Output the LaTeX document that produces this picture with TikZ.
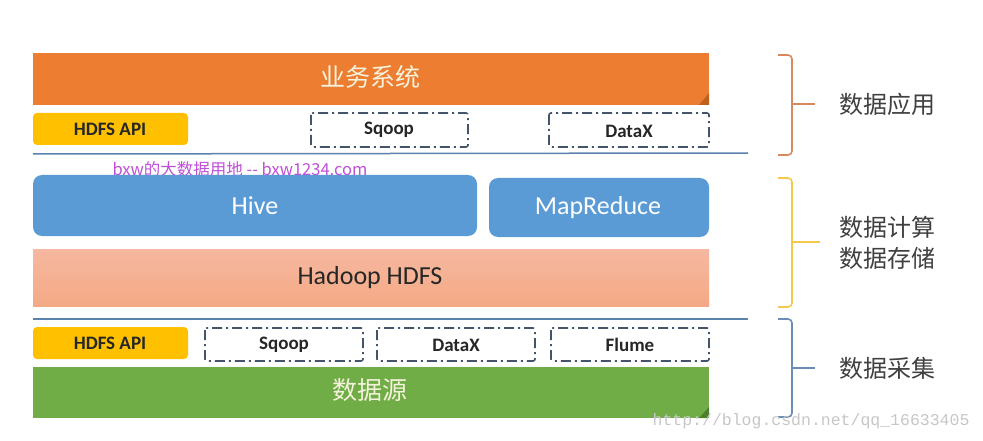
\documentclass[tikz,border=0pt]{standalone}
\usepackage{fontspec}
\setmainfont{Carlito}
\newfontfamily\cjk{Noto Sans CJK SC}
\newfontfamily\wmono{Liberation Mono}
\definecolor{orangebar}{HTML}{ED7D31}
\definecolor{orangedark}{HTML}{C0601E}
\definecolor{apiyellow}{HTML}{FFC000}
\definecolor{hiveblue}{HTML}{5B9BD5}
\definecolor{hdfstop}{HTML}{F6B8A0}
\definecolor{hdfsbot}{HTML}{F4A985}
\definecolor{greenbar}{HTML}{70AD47}
\definecolor{greendark}{HTML}{4E8030}
\definecolor{dashcol}{HTML}{44546A}
\definecolor{linecol}{HTML}{5B82AE}
\definecolor{brorange}{HTML}{D9895E}
\definecolor{bryellow}{HTML}{F2C94C}
\definecolor{brblue}{HTML}{6A8DB8}
\definecolor{wmpink}{HTML}{C04FD8}
\definecolor{labtext}{HTML}{404040}
\definecolor{bartext}{HTML}{F5F3DC}
\begin{document}
\begin{tikzpicture}[x=1pt,y=-1pt,
  bar/.style={draw=none,fill=#1},
  apibox/.style={draw=none,fill=apiyellow,rounded corners=4pt},
  toolbox/.style={draw=dashcol,line width=1.6pt,dash pattern=on 10pt off 4pt on 2pt off 4pt,rounded corners=2pt},
  tooltxt/.style={font=\bfseries\fontsize{19}{22}\selectfont,text=black!85},
  cjkbar/.style={font=\cjk\fontsize{25}{28}\selectfont,text=bartext},
  bigtxt/.style={font=\fontsize{26}{30}\selectfont},
  sepline/.style={draw=linecol,line width=1.5pt},
  brace/.style={line width=1.6pt,rounded corners=4pt},
  sidelab/.style={font=\cjk\fontsize{24}{31}\selectfont,text=labtext,anchor=west,align=left}
]
\useasboundingbox (0,0) rectangle (983,441);
\fill[white] (0,0) rectangle (983,441);

% ---- top: business systems ----
\fill[bar=orangebar] (33,53) rectangle (709,105);
\fill[orangedark] (709,93) -- (709,105) -- (699,105) -- cycle;
\node[cjkbar] (biz) at (370,77) {业务系统};

\fill[apibox] (33,113) rectangle (188,145);
\node[tooltxt] (api1) at (110,129) {HDFS API};
\draw[toolbox] (311,113) rectangle (468,147);
\node[tooltxt] (sq1) at (389,130) {Sqoop};
\draw[toolbox] (549,113) rectangle (709,147);
\node[tooltxt] (dx1) at (629,131) {DataX};

\coordinate (l1a) at (33,154);
\coordinate (l1b) at (748,153);
\draw[sepline] (l1a) -- (l1b);

% watermark
\node[font=\cjk\fontsize{16.5}{18}\selectfont,text=wmpink,anchor=west] (wm1) at (109,169) {bxw的大数据用地 -- bxw1234.com};

% ---- middle: compute & storage ----
\fill[hiveblue,rounded corners=9pt] (33,175) rectangle (477,236);
\node[bigtxt,text=white] (hive) at (255,206) {Hive};
\fill[hiveblue,rounded corners=9pt] (489,178) rectangle (709,237);
\node[bigtxt,text=white] (mr) at (598,208) {MapReduce};

\shade[top color=hdfstop,bottom color=hdfsbot] (33,249) rectangle (709,306);
\node[bigtxt,text=black!85] (hdfs) at (370,278) {Hadoop HDFS};

\coordinate (l2a) at (33,319);
\coordinate (l2b) at (748,319);
\draw[sepline] (l2a) -- (l2b);

% ---- bottom: data collection ----
\fill[apibox] (33,327) rectangle (188,359);
\node[tooltxt] (api2) at (110,343) {HDFS API};
\draw[toolbox] (205,328) rectangle (363,361);
\node[tooltxt] (sq2) at (284,345) {Sqoop};
\draw[toolbox] (377,328) rectangle (535,361);
\node[tooltxt] (dx2) at (456,345) {DataX};
\draw[toolbox] (551,328) rectangle (709,361);
\node[tooltxt] (fl) at (630,345) {Flume};

\fill[bar=greenbar] (33,367) rectangle (709,418);
\fill[greendark] (709,407) -- (709,418) -- (699,418) -- cycle;
\node[cjkbar] (src) at (370,390) {数据源};

% ---- braces ----
\draw[brace,brorange] (778,55) -- (792,55) -- (792,155) -- (778,155);
\draw[brace,brorange] (792,104) -- (815,104);
\draw[brace,bryellow] (778,178) -- (792,178) -- (792,307) -- (778,307);
\draw[brace,bryellow] (792,242) -- (820,242);
\draw[brace,brblue] (778,319) -- (792,319) -- (792,417) -- (778,417);
\draw[brace,brblue] (792,368) -- (815,368);

\node[sidelab] (lab1) at (836,104) {数据应用};
\node[sidelab] (lab2) at (836,243) {数据计算\\数据存储};
\node[sidelab] (lab3) at (836,368) {数据采集};

% csdn watermark
\node[font=\wmono\fontsize{16.5}{18}\selectfont,text=black!22,anchor=east] (wm2) at (973,421) {http://blog.csdn.net/qq\_16633405};
\end{tikzpicture}
\end{document}
